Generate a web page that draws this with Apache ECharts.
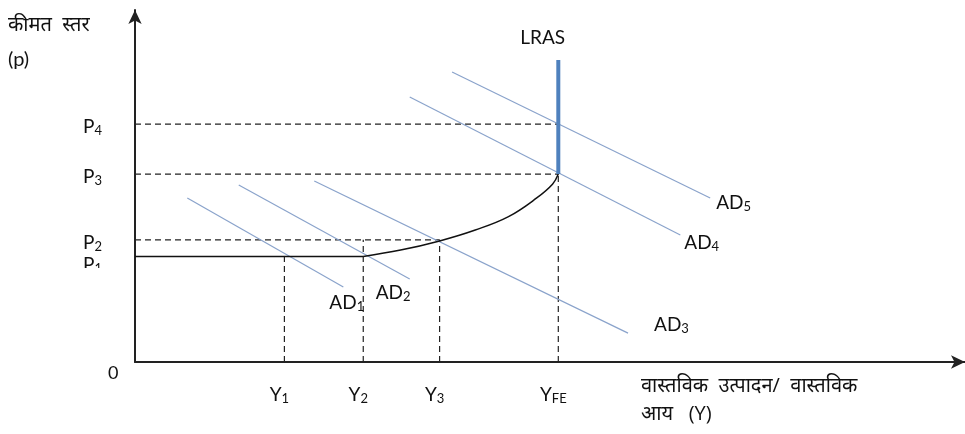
<!DOCTYPE html>
<html>
<head>
<meta charset="utf-8">
<script src="https://cdn.jsdelivr.net/npm/echarts@6/dist/echarts.min.js"></script>
<style>
  html, body { margin: 0; padding: 0; background: #fff; }
  #chart { width: 965px; height: 434px; }
</style>
</head>
<body>
<div id="chart"></div>
<script>
// price levels P1..P4 and output levels Y1, Y2, Y3, YFE (chart units 0..100)
const priceLevels = [30, 34.7, 53.4, 67.6]
const priceSubs = ['1', '2', '3', '4']
const outputLevels = [18, 27.5, 36.7, 51]
const outputSubs = ['1', '2', '3', 'FE']

// aggregate demand lines, start and end point of each
const adNames = ['1', '2', '3', '4', '5']
const adStart = [[6.3, 46.6], [12.5, 50.3], [21.6, 51.4], [33.1, 75.3], [38.2, 82.4]]
const adEnd = [[25.1, 21.3], [33.1, 23.6], [59.4, 8.2], [65.7, 36.1], [69.3, 46.6]]

// short run supply: flat at P1 up to Y2, then curving up to LRAS
const asFlat = [[0, 30], [27.5, 30]]
const asCurve = [[27.5, 30], [32, 31.8], [36.7, 34.4], [41, 37.5], [45, 41.3],
  [48.4, 46.6], [50.3, 50.5], [51, 53.4]]
const lrasTop = 85.8

// dashed guides: [x, y] corners to the axes
const guideH = [[36.7, 34.7], [51, 53.4], [51, 67.6]]
const guideV = [[18, 30], [27.5, 34.7], [36.7, 34.7], [51, 53.4]]

const font = "Lato, 'Open Sans', 'Noto Sans', sans-serif"
const hiFont = "'Open Sans', 'Noto Sans', sans-serif"
const adColor = '#8aa3cb'

const series = []

guideH.forEach(p => {
    series.push({
        type: 'line', symbol: 'none', silent: true,
        data: [[0, p[1]], [p[0], p[1]]],
        lineStyle: { color: '#222', width: 1.2, type: [6, 4] }
    })
})
guideV.forEach(p => {
    series.push({
        type: 'line', symbol: 'none', silent: true,
        data: [[p[0], 0], [p[0], p[1]]],
        lineStyle: { color: '#222', width: 1.2, type: [6, 4] }
    })
})

// AD label offsets from line end
const adLabelOffset = [[-22, 16], [-42, 14], [18, -8], [-4, 8], [-2, 5]]

const subRich = {
    m: { fontSize: 19, color: '#111', fontFamily: font },
    s: { fontSize: 13, color: '#111', fontFamily: font, padding: [8, 0, 0, 0] }
}

adNames.forEach((n, i) => {
    series.push({
        type: 'line', symbol: 'none', silent: true,
        data: [adStart[i], adEnd[i]],
        lineStyle: { color: adColor, width: 1.2 },
        endLabel: {
            show: true,
            offset: adLabelOffset[i],
            formatter: () => '{m|AD}{s|' + n + '}',
            rich: subRich
        }
    })
})

series.push({
    type: 'line', symbol: 'none', silent: true,
    data: asFlat,
    lineStyle: { color: '#111', width: 1.5 }
})
series.push({
    type: 'line', symbol: 'none', silent: true, smooth: 0.4,
    data: asCurve,
    lineStyle: { color: '#111', width: 1.5 }
})

series.push({
    type: 'line', symbol: 'none', silent: true,
    data: [[outputLevels[3], priceLevels[2]], [outputLevels[3], lrasTop]],
    lineStyle: { color: '#4f81bd', width: 4 },
    endLabel: {
        show: true,
        offset: [-46, -22],
        formatter: 'LRAS',
        color: '#111', fontSize: 19, fontFamily: font
    }
})

const priceLabel = v => '{m|P}{s|' + priceSubs[priceLevels.indexOf(v)] + '}'

const option = {
    animation: false,
    grid: { left: 135, top: 10, width: 830, height: 352, containLabel: false },
    xAxis: {
        type: 'value', min: 0, max: 100,
        splitLine: { show: false },
        axisTick: { show: false },
        axisLine: {
            lineStyle: { color: '#222', width: 2 },
            symbol: ['none', 'arrow'], symbolSize: [10, 14]
        },
        axisLabel: {
            customValues: outputLevels,
            margin: 14,
            padding: [8, 10, 0, 0],
            formatter: v => '{m|Y}{s|' + outputSubs[outputLevels.indexOf(v)] + '}',
            rich: subRich
        }
    },
    yAxis: [{
        type: 'value', min: 0, max: 100,
        splitLine: { show: false },
        axisTick: { show: false },
        axisLine: {
            lineStyle: { color: '#222', width: 2 },
            symbol: ['none', 'arrow'], symbolSize: [10, 14]
        },
        axisLabel: {
            customValues: priceLevels.slice(1),
            margin: 33,
            padding: [6, 0, 0, 0],
            formatter: priceLabel,
            rich: subRich
        }
    }, {
        // P1 sits too close to P2 to share an axis without being dropped
        type: 'value', min: 0, max: 100, position: 'left',
        splitLine: { show: false },
        axisTick: { show: false },
        axisLine: { show: false },
        axisLabel: {
            customValues: priceLevels.slice(0, 1),
            margin: 33,
            padding: [16, 0, 0, 0],
            formatter: priceLabel,
            rich: subRich
        }
    }],
    graphic: [
        { type: 'rect', left: 70, top: 268, shape: { width: 60, height: 24 }, style: { fill: '#fff' }, z: 100 },
        { type: 'text', left: 108, top: 364, style: { text: '0', fontSize: 18, fill: '#111', fontFamily: font } },
        { type: 'text', left: 8, top: 15, style: { text: 'कीमत  स्तर', fontSize: 20, fill: '#111', fontFamily: hiFont } },
        { type: 'text', left: 8, top: 50, style: { text: '(p)', fontSize: 20, fill: '#111', fontFamily: font } },
        { type: 'text', left: 641, top: 376, style: { text: 'वास्तविक  उत्पादन/  वास्तविक', fontSize: 20, fill: '#111', fontFamily: hiFont } },
        { type: 'text', left: 641, top: 404, style: { text: 'आय   (Y)', fontSize: 20, fill: '#111', fontFamily: hiFont } }
    ],
    series: series
}

const chart = echarts.init(document.getElementById('chart'))
chart.setOption(option)
</script>
</body>
</html>
